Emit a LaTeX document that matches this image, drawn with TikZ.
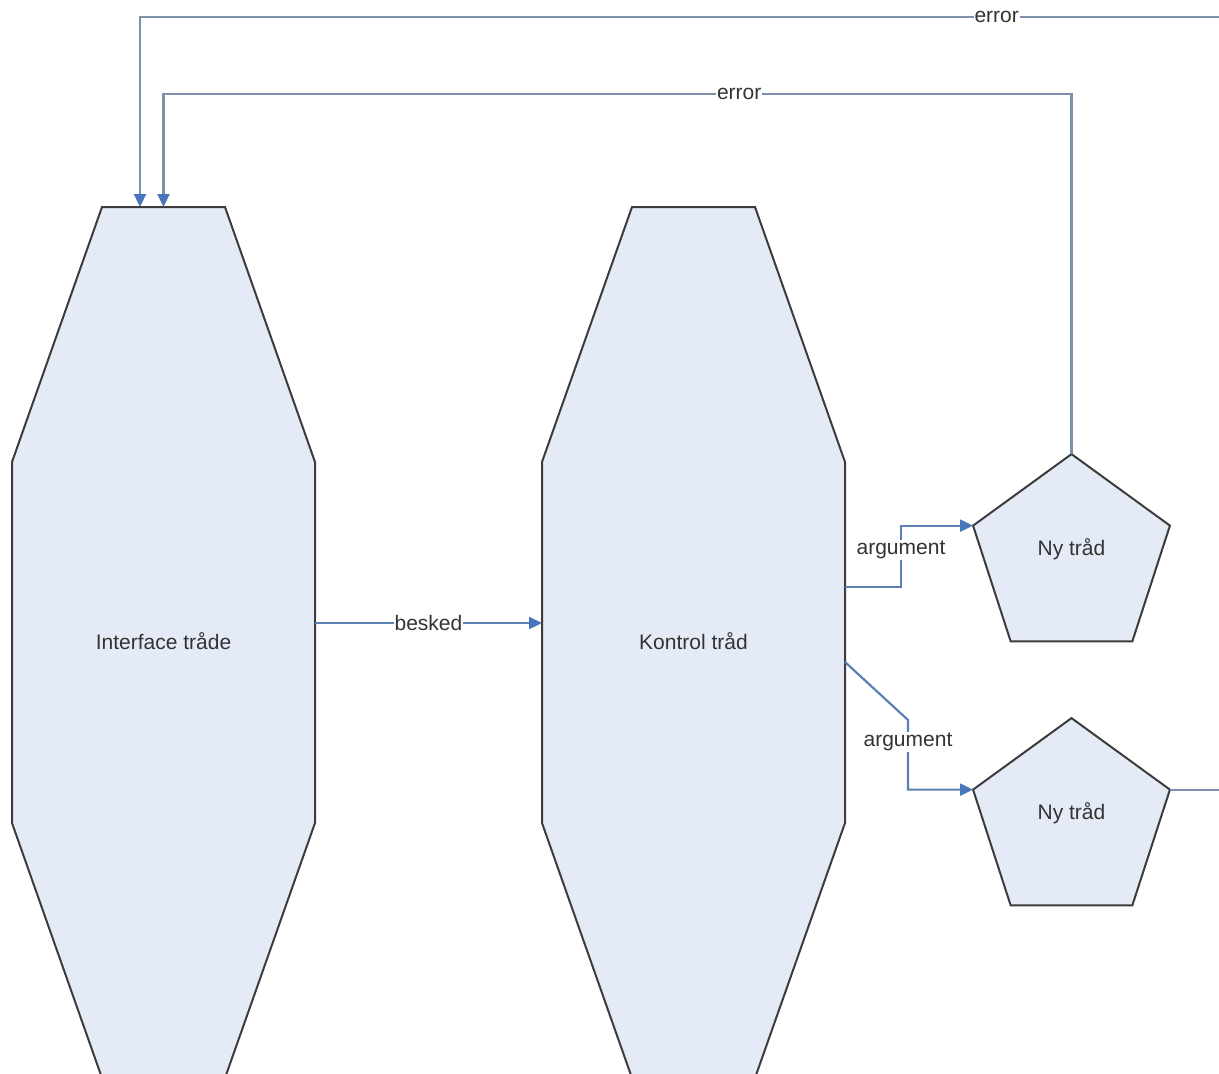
\documentclass[tikz,border=0pt]{standalone}
\usepackage{fontspec}
\setmainfont{Liberation Sans}
\usetikzlibrary{arrows.meta,shapes.geometric,calc,backgrounds}

\definecolor{shapefill}{HTML}{E4EBF6}
\definecolor{shapeedge}{HTML}{3C3C3C}
\definecolor{flow}{HTML}{5A80B4}
\definecolor{tipblue}{HTML}{4876BA}
\definecolor{errline}{HTML}{7A90AC}

\tikzset{
  labelfont/.style={font=\fontsize{21}{25}\selectfont, text=black!80},
  stage/.style={minimum width=303pt, minimum height=871pt, inner sep=0pt,
    outer sep=0pt, labelfont},
  octo/.style={draw=shapeedge, fill=shapefill, line width=2pt, line join=miter},
  worker/.style={regular polygon, regular polygon sides=5, minimum size=207pt,
    draw=shapeedge, fill=shapefill, line width=2pt, inner sep=0pt,
    outer sep=0pt, labelfont},
  link/.style={draw=flow, line width=2.2pt,
    -{Triangle[length=13pt,width=12pt,fill=tipblue,color=tipblue]}},
  errlink/.style={link, draw=errline},
  tag/.style={fill=white, inner sep=1pt, labelfont}
}

% chamfered column drawn behind a stage node
\newcommand\chamfercol[1]{%
  \draw[octo] ($(#1.north west)+(90,0)$) -- ($(#1.north east)+(-90,0)$)
    -- ($(#1.north east)+(0,255)$) -- ($(#1.south east)+(0,-255)$)
    -- ($(#1.south east)+(-90,0)$) -- ($(#1.south west)+(90,0)$)
    -- ($(#1.south west)+(0,-255)$) -- ($(#1.north west)+(0,255)$) -- cycle;}

\begin{document}
\begin{tikzpicture}[x=1pt, y=-1pt]
  \useasboundingbox (0,0) rectangle (1219,1074);

  % columns
  \node[stage] (ifc) at (163.5,642.5) {\raisebox{2pt}{Interface tråde}};
  \node[stage] (kt)  at (693.5,642.5) {\raisebox{2pt}{Kontrol tråd}};
  \begin{scope}[on background layer]
    \chamfercol{ifc}
    \chamfercol{kt}
  \end{scope}

  % worker threads
  \node[worker] (ny1) at (1071.5,557.6) {\raisebox{21pt}{Ny tråd}};
  \node[worker] (ny2) at (1071.5,821.6) {\raisebox{21pt}{Ny tråd}};

  % message from interface to control
  \draw[link] ([yshift=19.5pt]ifc.east) -- node[tag]{besked} ([yshift=19.5pt]kt.west);

  % arguments handed to the new threads
  \draw[link] ([yshift=55.5pt]kt.east) -- ++(56,0)
    |- node[tag,pos=0.3]{argument} (ny1.corner 2);
  \draw[link] ([yshift=-19.5pt]kt.east) -- ++(63,58)
    |- node[tag,pos=0.16]{argument} (ny2.corner 2);

  % errors reported back to the interface
  \draw[errlink] (ny1.corner 1) -- ++(0,-360)
    -| node[tag,pos=0.183]{error} (ifc.north);
  \draw[errlink] (ny2.corner 5) -- ++(60,0) -- ++(0,-773)
    -| node[tag,pos=0.107]{error} ([xshift=-23.5pt]ifc.north);
\end{tikzpicture}
\end{document}
